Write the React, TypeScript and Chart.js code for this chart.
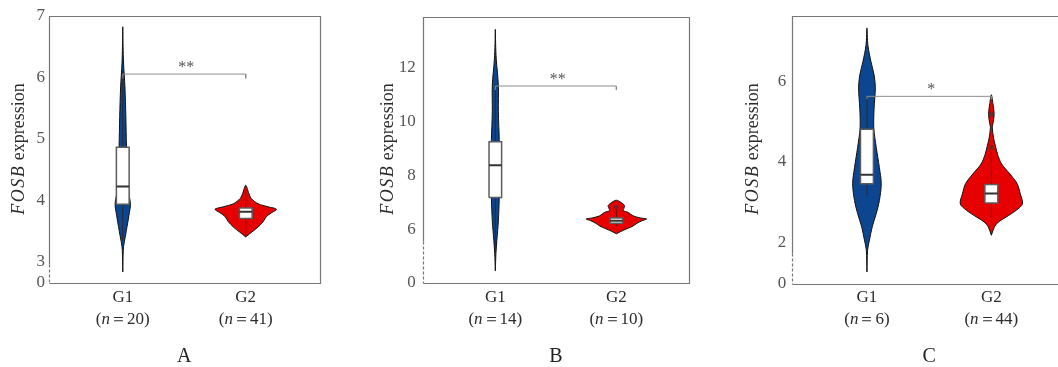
import React, { useEffect, useRef } from "react";
import { Chart, registerables } from "chart.js";

Chart.register(...registerables);

// ---------------- data ----------------
const groups = ["G1", "G2"];
const panelLetters = ["A", "B", "C"];
const sampleSizesA = [20, 41];
const sampleSizesB = [14, 10];
const sampleSizesC = [6, 44];

// y axis: ticks, range (bottom value is shown as "0" on a broken axis), break value
const yTicksA = [3, 4, 5, 6, 7];
const yTicksB = [6, 8, 10, 12];
const yTicksC = [2, 4, 6];
const yRangeA = [2.65, 7.0];
const yRangeB = [4.0, 13.89];
const yRangeC = [0.97, 7.62];
const axisBreakA = 2.96;
const axisBreakB = 5.57;
const axisBreakC = 1.74;

// violin profiles: expression values (top -> bottom) and relative density
const violinA1Values = [6.82, 6.5, 6.23, 5.84, 5.36, 4.87, 4.4, 4.1, 3.93, 3.75, 3.57, 3.4, 3.24, 3.0, 2.83];
const violinA1Density = [0, 0.01, 0.025, 0.07, 0.1, 0.12, 0.15, 0.2, 0.25, 0.2, 0.14, 0.08, 0.025, 0.005, 0];
const violinA2Values = [4.24, 4.11, 4.03, 3.94, 3.89, 3.85, 3.79, 3.73, 3.65, 3.56, 3.48, 3.4];
const violinA2Density = [0, 0.1, 0.17, 0.4, 0.73, 1.0, 0.83, 0.67, 0.57, 0.4, 0.2, 0];

const violinB1Values = [13.44, 12.9, 12.33, 11.36, 10.37, 9.34, 8.4, 7.18, 6.31, 5.58, 5.1, 4.45];
const violinB1Density = [0, 0.01, 0.03, 0.1, 0.1, 0.13, 0.15, 0.13, 0.1, 0.05, 0.02, 0];
const violinB2Values = [7.08, 7.0, 6.88, 6.78, 6.7, 6.62, 6.5, 6.42, 6.38, 6.32, 6.22, 6.12, 6.02, 5.92, 5.83];
const violinB2Density = [0, 0.15, 0.27, 0.25, 0.22, 0.4, 0.55, 0.8, 1.0, 0.85, 0.68, 0.55, 0.35, 0.15, 0];

const violinC1Values = [7.33, 6.9, 6.49, 6.16, 5.84, 5.34, 4.85, 4.36, 3.86, 3.46, 3.04, 2.72, 2.39, 2.06, 1.81, 1.27];
const violinC1Density = [0, 0.03, 0.13, 0.23, 0.27, 0.23, 0.22, 0.3, 0.4, 0.46, 0.4, 0.3, 0.17, 0.08, 0.02, 0];
const violinC2Values = [5.67, 5.45, 5.18, 4.95, 4.85, 4.6, 4.4, 4.19, 3.95, 3.7, 3.46, 3.21, 2.96, 2.8, 2.63, 2.51, 2.39, 2.18];
const violinC2Density = [0, 0.05, 0.09, 0.05, 0.03, 0.07, 0.13, 0.2, 0.33, 0.6, 0.83, 0.93, 1.0, 0.8, 0.47, 0.23, 0.1, 0];

// box statistics: [whisker low, Q1, median, Q3, whisker high]
const boxA1 = [3.35, 3.93, 4.22, 4.86, 6.1];
const boxA2 = [3.42, 3.7, 3.81, 3.87, 4.16];
const boxB1 = [5.3, 7.18, 8.38, 9.26, 11.4];
const boxB2 = [6.12, 6.22, 6.32, 6.42, 6.83];
const boxC1 = [3.17, 3.46, 3.68, 4.81, 5.63];
const boxC2 = [2.62, 2.98, 3.22, 3.44, 4.27];

// outlier points
const outliersA1: number[] = [];
const outliersA2: number[] = [];
const outliersB1: number[] = [];
const outliersB2 = [6.83];
const outliersC1: number[] = [];
const outliersC2 = [4.36, 5.18];

// significance brackets: [level, end level], label
const bracketA = [6.05, 5.98];
const bracketB = [11.33, 11.18];
const bracketC = [5.63, 5.56];
const starsA = "**";
const starsB = "**";
const starsC = "*";

// ---------------- styling ----------------
const FONT = "'Liberation Serif', 'Times New Roman', serif";
const GROUP_FILL = ["#0c4690", "#e60000"];
const VIOLIN_HALF = 0.25;
const BOX_HALF = 0.052;
const PAGE_H = 367;

type Panel = {
  letter: string;
  sizes: number[];
  ticks: number[];
  range: number[];
  axisBreak: number;
  violins: number[][][];
  boxes: number[][];
  outliers: number[][];
  bracket: number[];
  stars: string;
  canvasLeft: number;
  canvasWidth: number;
  area: { l: number; r: number; t: number; b: number };
  titleX: number;
  tickPad: number;
};

const panels: Panel[] = [
  {
    letter: panelLetters[0], sizes: sampleSizesA, ticks: yTicksA, range: yRangeA, axisBreak: axisBreakA,
    violins: [[violinA1Values, violinA1Density], [violinA2Values, violinA2Density]],
    boxes: [boxA1, boxA2], outliers: [outliersA1, outliersA2], bracket: bracketA, stars: starsA,
    canvasLeft: 0, canvasWidth: 335, area: { l: 49, r: 319.5, t: 15.7, b: 283 }, titleX: 19, tickPad: 4,
  },
  {
    letter: panelLetters[1], sizes: sampleSizesB, ticks: yTicksB, range: yRangeB, axisBreak: axisBreakB,
    violins: [[violinB1Values, violinB1Density], [violinB2Values, violinB2Density]],
    boxes: [boxB1, boxB2], outliers: [outliersB1, outliersB2], bracket: bracketB, stars: starsB,
    canvasLeft: 340, canvasWidth: 360, area: { l: 422.7, r: 689, t: 14.3, b: 283 }, titleX: 48, tickPad: 7,
  },
  {
    letter: panelLetters[2], sizes: sampleSizesC, ticks: yTicksC, range: yRangeC, axisBreak: axisBreakC,
    violins: [[violinC1Values, violinC1Density], [violinC2Values, violinC2Density]],
    boxes: [boxC1, boxC2], outliers: [outliersC1, outliersC2], bracket: bracketC, stars: starsC,
    canvasLeft: 705, canvasWidth: 375, area: { l: 792.3, r: 1066, t: 14.3, b: 284 }, titleX: 48, tickPad: 6,
  },
];

function violinPoints(center: number, values: number[], dens: number[]) {
  const right = values.map((v, i) => ({ x: center + dens[i] * VIOLIN_HALF, y: v })).reverse();
  const left = values.map((v, i) => ({ x: center - dens[i] * VIOLIN_HALF, y: v }));
  return right.concat(left.slice(1));
}

function buildDatasets(p: Panel) {
  const ds: any[] = [];
  groups.forEach((_, gi) => {
    const [vals, dens] = p.violins[gi];
    const [lo, q1, med, q3, hi] = p.boxes[gi];
    ds.push({
      data: violinPoints(gi, vals, dens), showLine: true, fill: "shape",
      backgroundColor: GROUP_FILL[gi], borderColor: "#111", borderWidth: 1, tension: 0.3,
      pointRadius: 0, order: 5,
    });
    ds.push({
      data: [{ x: gi, y: lo }, { x: gi, y: hi }], showLine: true, fill: false,
      borderColor: gi === 0 ? "#2a2a2a" : "#6a1010", borderWidth: 1, pointRadius: 0, order: 4,
    });
    ds.push({
      data: [
        { x: gi - BOX_HALF, y: q1 }, { x: gi + BOX_HALF, y: q1 }, { x: gi + BOX_HALF, y: q3 },
        { x: gi - BOX_HALF, y: q3 }, { x: gi - BOX_HALF, y: q1 },
      ],
      showLine: true, fill: "shape", backgroundColor: "#ffffff", borderColor: "#5c5c5c",
      borderWidth: 1.5, pointRadius: 0, tension: 0, order: 3,
    });
    ds.push({
      data: [{ x: gi - BOX_HALF, y: med }, { x: gi + BOX_HALF, y: med }], showLine: true, fill: false,
      borderColor: "#333", borderWidth: 2, pointRadius: 0, order: 2,
    });
    if (p.outliers[gi].length) {
      ds.push({
        data: p.outliers[gi].map((v) => ({ x: gi, y: v })), showLine: false,
        pointRadius: 2.2, pointBackgroundColor: "#6a2a2a", pointBorderWidth: 0, order: 1,
      });
    }
  });
  const [lvl, end] = p.bracket;
  ds.push({
    data: [{ x: 0, y: end }, { x: 0, y: lvl }, { x: 1, y: lvl }, { x: 1, y: end }],
    showLine: true, fill: false, borderColor: "#8c8c8c", borderWidth: 1, pointRadius: 0, order: 0,
  });
  return ds;
}

function decorPlugin(p: Panel) {
  return {
    id: "decor" + p.letter,
    afterDraw(chart: any) {
      const { ctx, chartArea: a, scales } = chart;
      const x = scales.x;
      const y = scales.y;
      ctx.save();
      // frame
      ctx.strokeStyle = "#777";
      ctx.lineWidth = 1.2;
      const L = Math.round(a.left) + 0.5;
      const R = Math.round(a.right) + 0.5;
      const T = Math.round(a.top) + 0.5;
      const B = Math.round(a.bottom) + 0.5;
      const brk = Math.round(y.getPixelForValue(p.axisBreak)) + 0.5;
      ctx.beginPath();
      ctx.moveTo(L, brk);
      ctx.lineTo(L, T);
      ctx.lineTo(R, T);
      ctx.lineTo(R, B);
      ctx.lineTo(L, B);
      ctx.stroke();
      ctx.setLineDash([3, 2]);
      ctx.beginPath();
      ctx.moveTo(L, brk);
      ctx.lineTo(L, B);
      ctx.stroke();
      ctx.setLineDash([]);

      // significance stars
      const [lvl] = p.bracket;
      ctx.fillStyle = "#555";
      ctx.font = `16px ${FONT}`;
      ctx.textAlign = "center";
      ctx.textBaseline = "alphabetic";
      ctx.fillText(p.stars, (x.getPixelForValue(0) + x.getPixelForValue(1)) / 2 + 2, y.getPixelForValue(lvl) - 2);

      // category labels
      ctx.fillStyle = "#2b2b2b";
      groups.forEach((g, gi) => {
        const cx = x.getPixelForValue(gi);
        ctx.font = `17px ${FONT}`;
        ctx.textAlign = "center";
        ctx.textBaseline = "middle";
        ctx.fillText(g, cx, 298);
        const parts: [string, string][] = [
          ["(", `17px ${FONT}`],
          ["n", `italic 17px ${FONT}`],
          ["＝", `17px ${FONT}`],
          [String(p.sizes[gi]) + ")", `17px ${FONT}`],
        ];
        let total = 0;
        const widths = parts.map(([t, f]) => {
          ctx.font = f;
          const w = ctx.measureText(t).width;
          total += w;
          return w;
        });
        let sx = cx - total / 2;
        ctx.textAlign = "left";
        parts.forEach(([t, f], i) => {
          ctx.font = f;
          ctx.fillText(t, sx, 320);
          sx += widths[i];
        });
      });

      // panel letter
      ctx.font = `20px ${FONT}`;
      ctx.textAlign = "center";
      ctx.textBaseline = "middle";
      ctx.fillStyle = "#222";
      ctx.fillText(p.letter, (a.left + a.right) / 2, 357);

      // y axis title
      ctx.translate(p.titleX, 149);
      ctx.rotate(-Math.PI / 2);
      ctx.textBaseline = "middle";
      ctx.textAlign = "left";
      ctx.fillStyle = "#2b2b2b";
      ctx.font = `italic 18px ${FONT}`;
      (ctx as any).letterSpacing = "1.5px";
      const w1 = ctx.measureText("FOSB").width;
      ctx.font = `18px ${FONT}`;
      (ctx as any).letterSpacing = "0px";
      const w2 = ctx.measureText(" expression").width;
      const start = -(w1 + w2) / 2;
      ctx.font = `italic 18px ${FONT}`;
      (ctx as any).letterSpacing = "1.5px";
      ctx.fillText("FOSB", start, 0);
      (ctx as any).letterSpacing = "0px";
      ctx.font = `18px ${FONT}`;
      ctx.fillText(" expression", start + w1, 0);
      ctx.restore();
    },
  };
}

function makeConfig(p: Panel): any {
  const [ymin, ymax] = p.range;
  const yWidth = p.area.l - p.canvasLeft;
  return {
    type: "scatter",
    data: { datasets: buildDatasets(p) },
    options: {
      responsive: false,
      animation: false,
      events: [],
      layout: {
        padding: {
          left: 0,
          top: p.area.t,
          bottom: PAGE_H - p.area.b,
          right: p.canvasLeft + p.canvasWidth - p.area.r,
        },
      },
      plugins: { legend: { display: false }, tooltip: { enabled: false } },
      scales: {
        x: { type: "linear", display: false, min: -0.6, max: 1.6 },
        y: {
          type: "linear",
          min: ymin,
          max: ymax,
          grid: { display: false, drawTicks: false },
          border: { display: false },
          afterFit: (s: any) => {
            s.width = yWidth;
          },
          afterBuildTicks: (s: any) => {
            s.ticks = [ymin, ...p.ticks].map((v) => ({ value: v }));
          },
          ticks: {
            autoSkip: false,
            padding: p.tickPad,
            color: "#555",
            font: { family: FONT, size: 17 },
            callback: (v: number) => (v === ymin ? "0" : String(v)),
          },
        },
      },
    },
    plugins: [decorPlugin(p)],
  };
}

export default function App() {
  const refs = useRef<(HTMLCanvasElement | null)[]>([]);
  useEffect(() => {
    const charts = panels.map((p, i) => new Chart(refs.current[i] as HTMLCanvasElement, makeConfig(p)));
    return () => charts.forEach((c) => c.destroy());
  }, []);
  return (
    <div
      style={{
        position: "fixed",
        left: 0,
        top: 0,
        width: 1058,
        height: PAGE_H,
        overflow: "hidden",
        background: "#fff",
      }}
    >
      {panels.map((p, i) => (
        <canvas
          key={p.letter}
          ref={(el) => {
            refs.current[i] = el;
          }}
          width={p.canvasWidth}
          height={PAGE_H}
          style={{ position: "absolute", left: p.canvasLeft, top: 0, width: p.canvasWidth, height: PAGE_H }}
        />
      ))}
    </div>
  );
}
